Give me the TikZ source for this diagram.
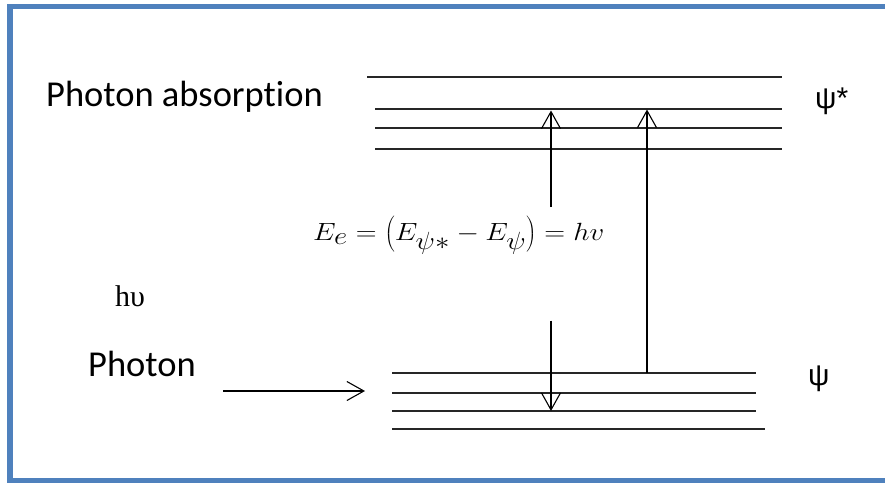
\documentclass[tikz,border=0pt]{standalone}
\usepackage{fontspec}
\setmainfont{Carlito}[Ligatures=NoCommon]
\newfontfamily\serifgr{Liberation Serif}
\newfontfamily\psifont{Liberation Sans}
\usetikzlibrary{arrows.meta}
\definecolor{frameblue}{RGB}{79,129,189}
\begin{document}
\begin{tikzpicture}[x=1pt,y=-1pt,
  level/.style={line width=1.7pt, black!85},
  trans/.style={line width=1.1pt, black},
  barb/.style={-{Straight Barb[length=17pt,width=19pt,line width=1.1pt]}},
  lbl/.style={inner sep=0pt, anchor=base west, font=\fontsize{36.5}{44}\selectfont},
  psilbl/.style={inner sep=0pt, anchor=base west, font=\psifont\fontsize{30}{36}\selectfont}]
\useasboundingbox (0,0) rectangle (885,482);
\begin{scope}
\clip (0,0) rectangle (885,482);
\draw[frameblue, line width=5.5pt] (10,6.5) rectangle (900,480.3);
\end{scope}
% upper levels (psi*)
\coordinate (u1a) at (367,76.7);  \coordinate (u1b) at (782,76.7);
\coordinate (u2a) at (375,109.3); \coordinate (u2b) at (782,109.3);
\coordinate (u3a) at (375,127.7); \coordinate (u3b) at (782,127.7);
\coordinate (u4a) at (375,148.7); \coordinate (u4b) at (782,148.7);
\draw[level] (u1a) -- (u1b);
\draw[level] (u2a) -- (u2b);
\draw[level] (u3a) -- (u3b);
\draw[level] (u4a) -- (u4b);
% lower levels (psi)
\coordinate (l1a) at (392,373.3); \coordinate (l1b) at (756,373.3);
\coordinate (l2a) at (392,393);   \coordinate (l2b) at (756,393);
\coordinate (l3a) at (392,411);   \coordinate (l3b) at (756,411);
\coordinate (l4a) at (392,429);   \coordinate (l4b) at (765,429);
\draw[level] (l1a) -- (l1b);
\draw[level] (l2a) -- (l2b);
\draw[level] (l3a) -- (l3b);
\draw[level] (l4a) -- (l4b);
% labels
\node[lbl] (abs) at (46,106.7) {Photon absorption};
\node[lbl] (pho) at (88,376.7) {Photon};
\node[inner sep=0pt, anchor=base west, font=\serifgr\fontsize{30}{36}\selectfont] (hnu) at (115,306) {hυ};
\node[psilbl] (psis) at (815,108) {ψ*};
\node[psilbl] (psi) at (808,385) {ψ};
\node[inner sep=0pt, anchor=base west, font=\fontsize{33}{40}\selectfont, xscale=1.16, transform shape] (eq) at (313,240.7)
  {$E_e = \left(E_{\psi*} - E_\psi\right) = hv$};
% transitions
\coordinate (a1s) at (551,207);   \coordinate (a1t) at (551,110.5);
\coordinate (a2s) at (551,320.7); \coordinate (a2t) at (551,411);
\coordinate (a3s) at (647,373.3); \coordinate (a3t) at (647,109.5);
\draw[trans,barb] (a1s) -- (a1t);
\draw[trans,barb] (a2s) -- (a2t);
\draw[trans,barb] (a3s) -- (a3t);
% incoming photon
\coordinate (ps) at (223,391); \coordinate (pt) at (365,391);
\draw[trans,barb] (ps) -- (pt);
\end{tikzpicture}
\end{document}
